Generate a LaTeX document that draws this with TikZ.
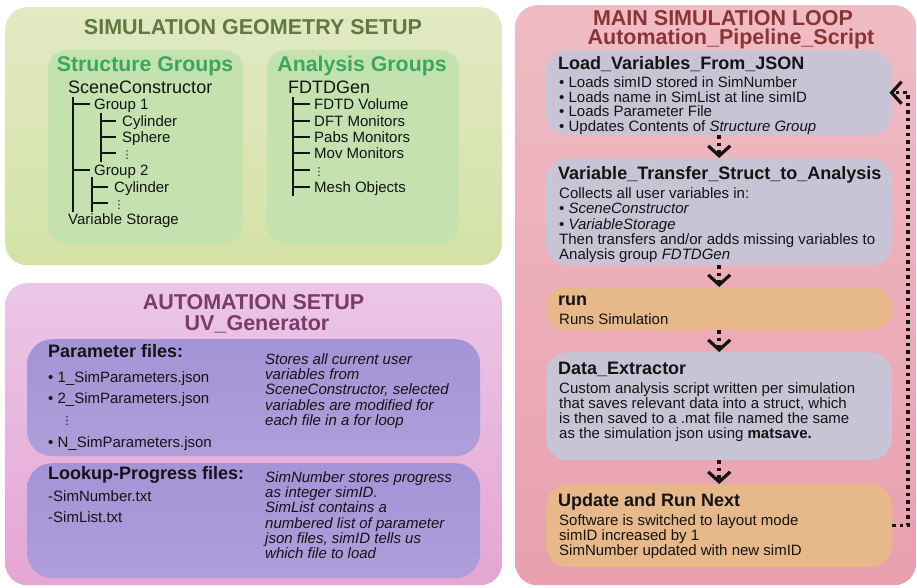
\documentclass[tikz,border=0pt]{standalone}
\usepackage{fontspec}
\setmainfont{Liberation Sans}
\newfontfamily\dvsans{DejaVu Sans}
\usetikzlibrary{arrows.meta}
\definecolor{gOutTop}{RGB}{226,233,196}
\definecolor{gOutBot}{RGB}{212,226,166}
\definecolor{gIn}{RGB}{196,226,176}
\definecolor{gTitle}{RGB}{94,122,60}
\definecolor{gSub}{RGB}{58,168,92}
\definecolor{pOutTop}{RGB}{236,198,230}
\definecolor{pOutBot}{RGB}{228,166,210}
\definecolor{lavTop}{RGB}{162,148,214}
\definecolor{lavBot}{RGB}{174,158,218}
\definecolor{pTitle}{RGB}{122,58,110}
\definecolor{rOutTop}{RGB}{240,188,196}
\definecolor{rOutBot}{RGB}{232,160,174}
\definecolor{rTitle}{RGB}{138,52,52}
\definecolor{grayBox}{RGB}{200,196,214}
\definecolor{orangeBox}{RGB}{230,184,138}
\definecolor{ink}{RGB}{20,20,20}
\tikzset{
  panel/.style={rectangle, rounded corners=#1, inner sep=0pt, anchor=north west, draw=none},
  bigtitle/.style={font=\fontsize{21.5}{21.5}\selectfont\bfseries, anchor=base, inner sep=0pt},
  subtitle/.style={font=\fontsize{21.3}{21.3}\selectfont\bfseries, text=gSub, anchor=base, inner sep=0pt},
  boxtitle/.style={font=\fontsize{18}{18}\selectfont\bfseries, text=ink, anchor=base west, inner sep=0pt},
  body/.style={font=\fontsize{15}{#1}\selectfont, text=ink, anchor=base west, inner sep=0pt, align=left},
  body/.default=15,
  italbody/.style={font=\fontsize{15}{15.2}\selectfont\itshape, text=ink, anchor=base west, inner sep=0pt, align=left},
  treeroot/.style={font=\fontsize{18}{18}\selectfont, text=ink, anchor=base west, inner sep=0pt},
  treeitem/.style={font=\fontsize{15}{15}\selectfont, text=ink, anchor=base west, inner sep=0pt},
  treeline/.style={line width=1.2pt, ink},
  vdot/.style={font=\dvsans\fontsize{11}{11}\selectfont, text=ink, anchor=center, inner sep=0pt},
  dotflow/.style={line width=3.5pt, dash pattern=on 3.5pt off 4pt, ink,
    -{Straight Barb[length=10pt, width=22pt, line width=3.2pt]}},
}
\begin{document}
\begin{tikzpicture}[x=1pt,y=-1pt]
\useasboundingbox (0,0) rectangle (917,587);

% ===== outer panels =====
\node[panel=22pt, top color=gOutTop, bottom color=gOutBot, minimum width=497pt, minimum height=258pt] (geo) at (5,7) {};
\node[panel=22pt, top color=pOutTop, bottom color=pOutBot, minimum width=497pt, minimum height=302pt] (aut) at (5,283) {};
\node[panel=22pt, top color=rOutTop, bottom color=rOutBot, minimum width=401pt, minimum height=580pt] (loop) at (515,5) {};

% ===== geometry setup =====
\node[bigtitle, text=gTitle] (geoT) at (253,34.7) {SIMULATION GEOMETRY SETUP};
\node[panel=18pt, fill=gIn, minimum width=195pt, minimum height=193pt] (sg) at (48,50) {};
\node[panel=18pt, fill=gIn, minimum width=192pt, minimum height=193pt] (ag) at (267,50) {};
\node[subtitle] (sgT) at (145,71.6) {Structure Groups};
\node[subtitle] (agT) at (362,71.6) {Analysis Groups};

\node[treeroot] (sc) at (68,93.5) {SceneConstructor};
\node[treeitem] (g1) at (94,109.4) {Group 1};
\node[treeitem] (g1a) at (122,126.4) {Cylinder};
\node[treeitem] (g1b) at (122,142.4) {Sphere};
\node[vdot] (g1c) at (127,155) {⋮};
\node[treeitem] (g2) at (94,175.4) {Group 2};
\node[treeitem] (g2a) at (114,192.4) {Cylinder};
\node[vdot] (g2b) at (119,205) {⋮};
\node[treeitem] (vs) at (68,224.4) {Variable Storage};
\draw[treeline] (73,97) -- (73,212);
\draw[treeline] (73,104) -- (90,104);
\draw[treeline] (73,170) -- (90,170);
\draw[treeline] (101,113) -- (101,162);
\draw[treeline] (101,121) -- (116,121);
\draw[treeline] (101,137) -- (116,137);
\draw[treeline] (101,153) -- (116,153);
\draw[treeline] (92,177) -- (92,212);
\draw[treeline] (92,187) -- (108,187);
\draw[treeline] (92,203) -- (108,203);

\node[treeroot] (fd) at (288,93.5) {FDTDGen};
\node[treeitem] (a1) at (314,109.4) {FDTD Volume};
\node[treeitem] (a2) at (314,126.4) {DFT Monitors};
\node[treeitem] (a3) at (314,142.4) {Pabs Monitors};
\node[treeitem] (a4) at (314,158.4) {Mov Monitors};
\node[vdot] (a5) at (319,172) {⋮};
\node[treeitem] (a6) at (314,192.4) {Mesh Objects};
\draw[treeline] (293,97) -- (293,196);
\foreach \yy in {104,121,137,153,170,187} \draw[treeline] (293,\yy) -- (310,\yy);

% ===== automation setup =====
\node[bigtitle, text=pTitle] (autT1) at (253.5,309.7) {AUTOMATION SETUP};
\node[bigtitle, text=pTitle] (autT2) at (257,330.7) {UV\_Generator};
\node[panel=25pt, top color=lavTop, bottom color=lavBot, minimum width=453pt, minimum height=117pt] (pf) at (27,339) {};
\node[panel=25pt, top color=lavTop, bottom color=lavBot, minimum width=453pt, minimum height=115pt] (lp) at (27,463) {};
\node[boxtitle] (pfT) at (48,357.5) {Parameter files:};
\node[body] (p1) at (48,382.4) {• 1\_SimParameters.json};
\node[body] (p2) at (48,403.4) {• 2\_SimParameters.json};
\node[vdot] (p3) at (67,421) {⋮};
\node[body] (pn) at (48,447.4) {• N\_SimParameters.json};
\node[italbody] (pfD) at (265,425.2) {Stores all current user\\variables from\\SceneConstructor, selected\\variables are modified for\\each file in a for loop};
\node[boxtitle] (lpT) at (48,479.5) {Lookup-Progress files:};
\node[body] (l1) at (48,501.4) {-SimNumber.txt};
\node[body] (l2) at (48,522.4) {-SimList.txt};
\node[italbody] (lpD) at (265,558.4) {SimNumber stores progress\\as integer simID.\\SimList contains a\\numbered list of parameter\\json files, simID tells us\\which file to load};

% ===== main simulation loop =====
\node[bigtitle, text=rTitle] (loopT1) at (723,25.7) {MAIN SIMULATION LOOP};
\node[bigtitle, text=rTitle] (loopT2) at (731,44.7) {Automation\_Pipeline\_Script};

\node[panel=22pt, fill=grayBox, minimum width=346pt, minimum height=85pt] (b1) at (546,50) {};
\node[panel=22pt, fill=grayBox, minimum width=346pt, minimum height=107pt] (b2) at (546,158) {};
\node[panel=20pt, fill=orangeBox, minimum width=346pt, minimum height=43pt] (b3) at (546,287) {};
\node[panel=22pt, fill=grayBox, minimum width=346pt, minimum height=108pt] (b4) at (546,352) {};
\node[panel=22pt, fill=orangeBox, minimum width=346pt, minimum height=83pt] (b5) at (546,484) {};

\node[boxtitle] (b1T) at (558,69.5) {Load\_Variables\_From\_JSON};
\node[body=14.6] (b1D) at (559,131.2) {• Loads simID stored in SimNumber\\• Loads name in SimList at line simID\\• Loads Parameter File\\• Updates Contents of \textit{Structure Group}};

\node[boxtitle] (b2T) at (558,179.5) {Variable\_Transfer\_Struct\_to\_Analysis};
\node[body=15.3] (b2D) at (559,259.6) {Collects all user variables in:\\• \textit{SceneConstructor}\\• \textit{VariableStorage}\\Then transfers and/or adds missing variables to\\Analysis group \textit{FDTDGen}};

\node[boxtitle] (b3T) at (558,305.5) {run};
\node[body] (b3D) at (559,324.4) {Runs Simulation};

\node[boxtitle] (b4T) at (558,374.5) {Data\_Extractor};
\node[body=15] (b4D) at (559,438.4) {Custom analysis script written per simulation\\that saves relevant data into a struct, which\\is then saved to a .mat file named the same\\as the simulation json using \textbf{matsave.}};

\node[boxtitle] (b5T) at (558,506.5) {Update and Run Next};
\node[body=15] (b5D) at (559,555.4) {Software is switched to layout mode\\simID increased by 1\\SimNumber updated with new simID};

% connectors
\draw[dotflow] (b1.south) -- (b2.north);
\draw[dotflow] (b2.south) -- (b3.north);
\draw[dotflow] (b3.south) -- (b4.north);
\draw[dotflow] (b4.south) -- (b5.north);
\coordinate (fb) at (908,300);
\draw[dotflow] (b5.east) -- (b5.east -| fb) -- (b1.east -| fb) -- ([xshift=-3pt]b1.east);
\end{tikzpicture}
\end{document}
